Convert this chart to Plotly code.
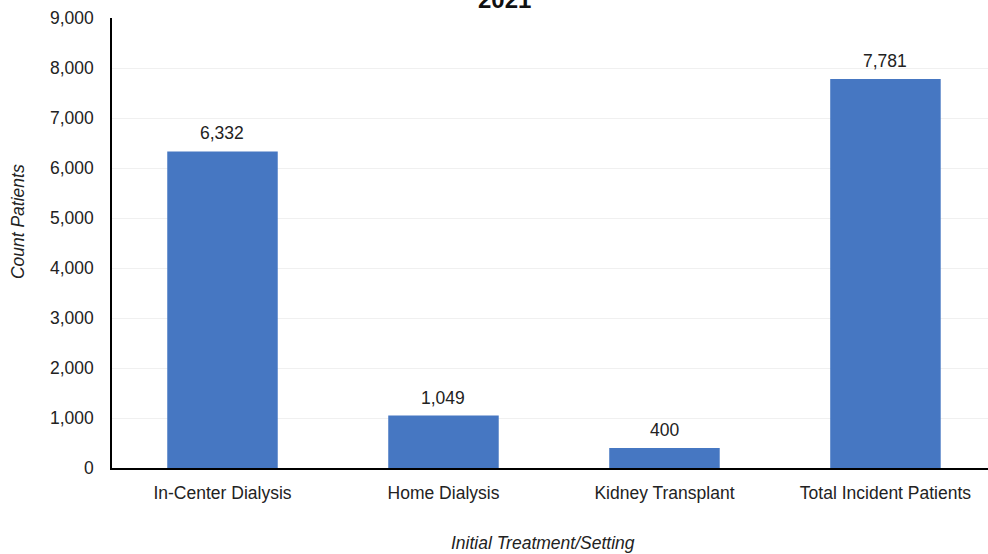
import plotly.graph_objects as go

categories = ["In-Center Dialysis", "Home Dialysis", "Kidney Transplant", "Total Incident Patients"]
values = [6332, 1049, 400, 7781]
value_labels = ["6,332", "1,049", "400", "7,781"]
y_ticks = [0, 1000, 2000, 3000, 4000, 5000, 6000, 7000, 8000, 9000]
y_tick_labels = ["0", "1,000", "2,000", "3,000", "4,000", "5,000", "6,000", "7,000", "8,000", "9,000"]

FONT = "Liberation Sans, Arial, sans-serif"
FS = 17.5

fig = go.Figure(go.Bar(
    x=list(range(len(categories))),
    y=values,
    cliponaxis=False,
    width=0.5,
    marker=dict(color="#4677c2", line=dict(width=0)),
    hoverinfo="skip",
))

for i, (v, lab) in enumerate(zip(values, value_labels)):
    fig.add_annotation(
        x=i, y=v, text=lab, xref="x", yref="y",
        xanchor="center", yanchor="bottom", yshift=6, showarrow=False,
        font=dict(family=FONT, size=FS, color="#222222"),
    )

fig.update_layout(
    width=988, height=554,
    margin=dict(l=112, r=0, t=18, b=86, pad=0),
    paper_bgcolor="white", plot_bgcolor="white",
    showlegend=False,
    font=dict(family=FONT, size=FS, color="#222222"),
)
fig.update_xaxes(
    range=[-0.5, 3.464],
    tickmode="array", tickvals=list(range(len(categories))), ticktext=categories,
    showline=True, linecolor="black", linewidth=1.5,
    ticks="outside", ticklen=8, tickcolor="rgba(0,0,0,0)",
    showgrid=False, zeroline=False,
    tickfont=dict(family=FONT, size=FS, color="#222222"),
)
fig.update_yaxes(
    range=[0, 9000],
    tickmode="array", tickvals=y_ticks, ticktext=y_tick_labels,
    showline=True, linecolor="black", linewidth=1.5,
    ticks="outside", ticklen=13, tickcolor="rgba(0,0,0,0)",
    showgrid=True, gridcolor="#f0f0f0", gridwidth=1,
    zeroline=False,
    tickfont=dict(family=FONT, size=FS, color="#222222"),
)

fig.add_annotation(
    text="Count Patients", textangle=-90,
    xref="paper", yref="paper", x=-0.107, y=0.547,
    xanchor="center", yanchor="middle", showarrow=False,
    font=dict(family=FONT, size=FS, color="#222222", style="italic"),
)
fig.add_annotation(
    text="Initial Treatment/Setting",
    xref="paper", yref="paper", x=0.492, y=-0.167,
    xanchor="center", yanchor="middle", showarrow=False,
    font=dict(family=FONT, size=FS, color="#222222", style="italic"),
)
fig.add_annotation(
    text="<b>2021</b>",
    xref="paper", yref="paper", x=0.448, y=1.0,
    xanchor="center", yanchor="bottom", yshift=3, showarrow=False,
    font=dict(family=FONT, size=24, color="#111111"),
)

fig.write_html(
    "out.html",
    config={"displayModeBar": False},
    post_script="document.body.style.margin='0px';document.body.style.padding='0px';",
)
